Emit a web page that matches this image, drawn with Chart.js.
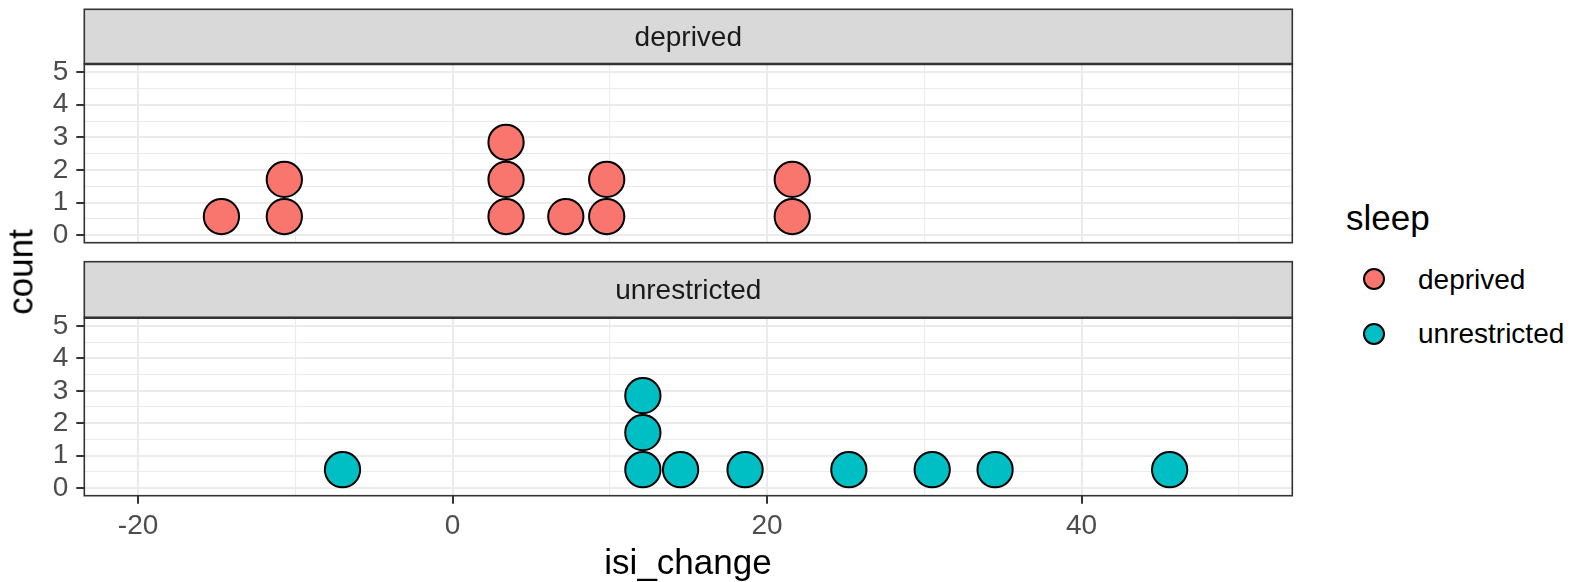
<!DOCTYPE html>
<html>
<head>
<meta charset="utf-8">
<script src="https://cdn.jsdelivr.net/npm/chart.js@4.4.1/dist/chart.umd.min.js"></script>
<style>
  html, body { margin: 0; padding: 0; background: #ffffff; }
  body { width: 1572px; height: 582px; position: relative; overflow: hidden;
         font-family: "Liberation Sans", Arial, Helvetica, sans-serif; }
  canvas { position: absolute; left: 0; }
  .txt { position: absolute; white-space: nowrap; line-height: 1; color: #000; }
  .key { position: absolute; width: 18px; height: 18px; border: 2px solid #000; border-radius: 50%; }
</style>
</head>
<body>
<canvas id="panelTop" width="1300" height="250" style="top:0px"></canvas>
<canvas id="panelBottom" width="1300" height="332" style="top:250px"></canvas>

<div class="txt" id="yTitle" style="font-size:35px; left:20px; top:272px; transform: translate(-50%, -50%) rotate(-90deg);">count</div>
<div class="txt" id="xTitle" style="font-size:35px; left:688px; top:544px; transform: translateX(-50%);">isi_change</div>

<div class="txt" style="font-size:35px; left:1346px; top:200px;">sleep</div>
<div class="key" style="left:1363px; top:268px; background:#F8766D;"></div>
<div class="txt" style="font-size:28px; left:1418px; top:266px;">deprived</div>
<div class="key" style="left:1363px; top:323px; background:#00BFC4;"></div>
<div class="txt" style="font-size:28px; left:1418px; top:320px;">unrestricted</div>

<script>
// Facet panels (one per sleep group)
const panels = ['deprived', 'unrestricted'];
const panelColors = ['#F8766D', '#00BFC4'];

// isi_change values, one entry per dot (dots sharing a bin centre stack up)
const deprivedIsi = [-14.7, -10.7, -10.7, 3.4, 3.4, 3.4, 7.2, 9.8, 9.8, 21.6, 21.6];
const unrestrictedIsi = [-7.0, 12.1, 12.1, 12.1, 14.5, 18.6, 25.2, 30.5, 34.5, 45.6];

// Axis ticks
const xTicks = [-20, 0, 20, 40];
const xMinor = [-10, 10, 30, 50];
const yTicks = [0, 1, 2, 3, 4, 5];
const yMinor = [0.5, 1.5, 2.5, 3.5, 4.5];

// Dot-plot geometry: bin width in isi_change units, stack step in count units
const binwidth = 2.37;
const stackStep = 1.14;

const FONT = '"Liberation Sans", Arial, Helvetica, sans-serif';
const GRID = '#EBEBEB';
const DARK = '#333333';
const DOT_BORDER = 2;

function stackDots(values) {
  const seen = {};
  return values.map(v => {
    const k = seen[v] || 0;
    seen[v] = k + 1;
    return { x: v, y: (k + 0.5) * stackStep };
  });
}

function dotRadius(c) {
  const s = c.chart.scales.x;
  return Math.abs(s.getPixelForValue(binwidth) - s.getPixelForValue(0)) / 2 - DOT_BORDER / 2;
}

const stripPlugin = {
  id: 'strip',
  afterDraw(chart, args, opts) {
    const { ctx, chartArea: a } = chart;
    const h = opts.height;
    ctx.save();
    // panel border
    ctx.strokeStyle = DARK;
    ctx.lineWidth = 1.6;
    ctx.strokeRect(a.left, a.top, a.right - a.left, a.bottom - a.top);
    // strip box
    ctx.fillStyle = '#D9D9D9';
    ctx.fillRect(a.left, a.top - h, a.right - a.left, h);
    ctx.strokeRect(a.left, a.top - h, a.right - a.left, h);
    ctx.lineWidth = 2.6;
    ctx.beginPath();
    ctx.moveTo(a.left, a.top);
    ctx.lineTo(a.right, a.top);
    ctx.stroke();
    // strip label
    ctx.fillStyle = '#1A1A1A';
    ctx.font = '28px ' + FONT;
    ctx.textAlign = 'center';
    ctx.textBaseline = 'middle';
    ctx.fillText(opts.label, (a.left + a.right) / 2, a.top - h / 2 + 1.5);
    ctx.restore();
  }
};

function makePanel(canvasId, idx, isBottom) {
  const values = idx === 0 ? deprivedIsi : unrestrictedIsi;
  const canvasH = isBottom ? 332 : 250;
  const areaTop = isBottom ? 67.7 : 64;
  const areaBottom = isBottom ? 245.7 : 242.7;
  return new Chart(document.getElementById(canvasId), {
    type: 'scatter',
    data: {
      datasets: [{
        label: panels[idx],
        data: stackDots(values),
        backgroundColor: panelColors[idx],
        borderColor: '#000000',
        borderWidth: DOT_BORDER,
        pointRadius: dotRadius,
        pointHoverRadius: dotRadius
      }]
    },
    options: {
      responsive: false,
      animation: false,
      events: [],
      devicePixelRatio: 1,
      layout: {
        padding: { left: 0, right: 7.7, top: areaTop, bottom: isBottom ? 0 : canvasH - areaBottom }
      },
      plugins: {
        legend: { display: false },
        tooltip: { enabled: false },
        strip: { label: panels[idx], height: isBottom ? 56 : 54.7 }
      },
      scales: {
        x: {
          type: 'linear',
          min: -23.42,
          max: 53.4,
          afterBuildTicks: (s) => {
            s.ticks = xTicks.concat(xMinor).sort((a, b) => a - b).map(v => ({ value: v }));
          },
          afterFit: (s) => {
            s.height = isBottom ? canvasH - areaBottom : 0;
            s.paddingLeft = 0; s.paddingRight = 0;
          },
          border: { display: false },
          grid: {
            color: GRID,
            lineWidth: (c) => (c.tick && xTicks.includes(c.tick.value)) ? 2 : 1.1,
            drawTicks: isBottom,
            tickLength: 8,
            tickWidth: 2,
            tickColor: (c) => (c.tick && xTicks.includes(c.tick.value)) ? DARK : 'rgba(0,0,0,0)'
          },
          ticks: {
            display: isBottom,
            autoSkip: false,
            maxRotation: 0,
            padding: 6,
            color: '#4D4D4D',
            font: { family: FONT, size: 28 },
            callback: (v) => xTicks.includes(v) ? String(v) : ''
          }
        },
        y: {
          type: 'linear',
          min: -0.23,
          max: 5.25,
          afterBuildTicks: (s) => {
            s.ticks = yTicks.concat(yMinor).sort((a, b) => a - b).map(v => ({ value: v }));
          },
          afterFit: (s) => {
            s.width = 84.3;
            s.paddingTop = 0; s.paddingBottom = 0;
          },
          border: { display: false },
          grid: {
            color: GRID,
            lineWidth: (c) => (c.tick && yTicks.includes(c.tick.value)) ? 2 : 1.1,
            drawTicks: true,
            tickLength: 8,
            tickWidth: 2,
            tickColor: (c) => (c.tick && yTicks.includes(c.tick.value)) ? DARK : 'rgba(0,0,0,0)'
          },
          ticks: {
            autoSkip: false,
            padding: 8,
            color: '#4D4D4D',
            font: { family: FONT, size: 28 },
            callback: (v) => yTicks.includes(v) ? String(v) : ''
          }
        }
      }
    },
    plugins: [stripPlugin]
  });
}

makePanel('panelTop', 0, false);
makePanel('panelBottom', 1, true);
</script>
</body>
</html>
